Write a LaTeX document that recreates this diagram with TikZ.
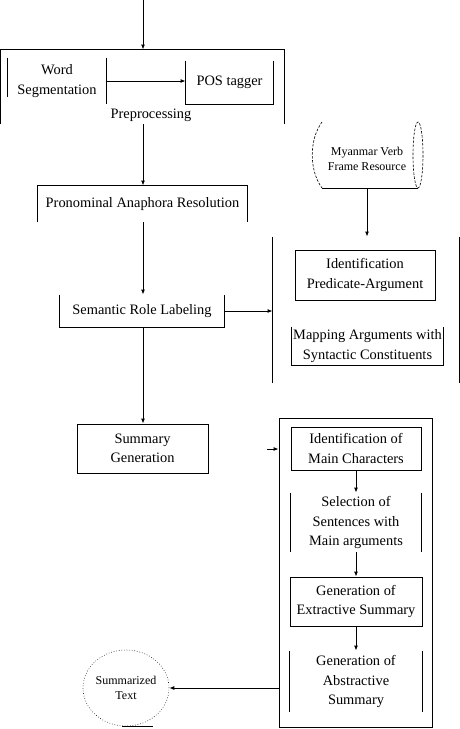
\documentclass[tikz,border=0pt]{standalone}
\usepackage{fontspec}
\setmainfont{Liberation Serif}
\usetikzlibrary{arrows.meta,shapes.geometric}
\begin{document}
\begin{tikzpicture}[x=1pt,y=-1pt,
  line width=0.9pt,
  arr/.style={-{Latex[length=5pt,width=4pt]}},
  box/.style={rectangle,inner sep=0pt,align=center,font=\fontsize{14.4}{19.5}\selectfont},
  fbox/.style={box,draw},
  small/.style={font=\fontsize{12}{14.5}\selectfont,align=center,inner sep=0pt},
  dsh/.style={line width=0.6pt,dash pattern=on 2.5pt off 1.5pt},
]
\useasboundingbox (0,0) rectangle (460,729);

% Preprocessing group
\node[box,minimum width=283pt,minimum height=74pt] (pre) at (142.5,87) {};
\draw (pre.south west) -- (pre.north west) -- (pre.north east) -- (pre.south east);
\node[box,anchor=base] (prelab) at (151,118) {Preprocessing};
\node[box,minimum width=98pt,minimum height=46pt] (ws) at (57,81) {Word\\Segmentation};
\draw (ws.north west) -- ++(0,39);
\draw (ws.north east) -- (ws.south east);
\node[box,minimum width=87pt,minimum height=43pt] (pos) at (229.5,82.5) {POS tagger};
\draw (pos.north west) -- (pos.south west) -- (pos.south east) -- (pos.north east);
\draw[arr] (ws.east) -- (ws.east -| pos.west);

% main column
\coordinate (start) at (143,0);
\draw[arr] (start) -- (start |- pre.north);
\node[box,minimum width=209pt,minimum height=36pt] (par) at (142.5,204) {Pronominal Anaphora Resolution};
\draw (par.south west) -- (par.north west) -- (par.north east) -- (par.south east);
\draw[arr] (start |- pre.south) -- (start |- par.north);
\node[box,minimum width=164pt,minimum height=32pt] (srl) at (142,311) {Semantic Role Labeling};
\draw (srl.north west) -- (srl.south west) -- (srl.south east) -- (srl.north east);
\draw[arr] (start |- par.south) -- (start |- srl.north);
\node[fbox,minimum width=131pt,minimum height=49pt] (sg) at (142.5,448.5) {Summary\\Generation};
\draw[arr] (start |- srl.south) -- (start |- sg.north);

% SRL group
\node[box,minimum width=186pt,minimum height=146pt] (srg) at (366,310) {};
\draw (srg.north west) -- (srg.south west);
\draw (srg.north east) -- (srg.south east);
\draw[arr] (srl.east) -- (srl.east -| srg.west);

% Myanmar Verb Frame Resource
\node[small] (mvf) at (367,159) {Myanmar Verb\\Frame Resource};
\draw[dsh] (322,122) .. controls (309,140) and (309,170) .. (322,188);
\draw[dsh] (418,155) ellipse [x radius=5, y radius=33];
\draw (322,188) -- (418,188);
\coordinate (mvfb) at (367,188);
\draw[arr] (mvfb) -- (mvfb |- srg.north);

\node[fbox,minimum width=140pt,minimum height=50pt] (ipa) at (365,275) {Identification\\Predicate-Argument};
\node[box,minimum width=151pt,minimum height=38pt] (map) at (367.5,346) {Mapping Arguments with\\Syntactic Constituents};
\draw (map.north west) -- (map.south west) -- (map.south east) -- (map.north east);

% Summary group
\node[fbox,minimum width=153pt,minimum height=309pt] (sgrp) at (355.5,572.5) {};
\coordinate (sgtail) at (267,449);
\draw[arr] (sgtail) -- (sgtail -| sgrp.west);

\node[fbox,minimum width=130pt,minimum height=43pt] (imc) at (356,448.5) {Identification of\\Main Characters};
\node[box,minimum width=130pt,minimum height=59pt] (sel) at (356,522.5) {Selection of\\Sentences with\\Main arguments};
\draw (sel.north west) -- (sel.south west);
\draw (sel.north east) -- (sel.south east);
\node[fbox,minimum width=132pt,minimum height=49pt] (ges) at (356,601.5) {Generation of\\Extractive Summary};
\node[box,minimum width=132pt,minimum height=61pt] (gas) at (356,681.5) {Generation of\\Abstractive\\Summary};
\draw (gas.north west) -- (gas.south west);
\draw (gas.north east) -- (gas.south east);
\draw[arr] (imc.south) -- (sel.north);
\draw[arr] (sel.south) -- (ges.north);
\draw[arr] (ges.south) -- (gas.north);

% Summarized text
\node[ellipse,draw,dotted,line width=0.6pt,minimum width=86pt,minimum height=76pt,small] (st) at (126,688) {Summarized\\Text};
\draw (st.south) ++(-4,0) -- ++(31,0);
\draw[arr] (sgrp.west |- st.east) -- (st.east);
\end{tikzpicture}
\end{document}
